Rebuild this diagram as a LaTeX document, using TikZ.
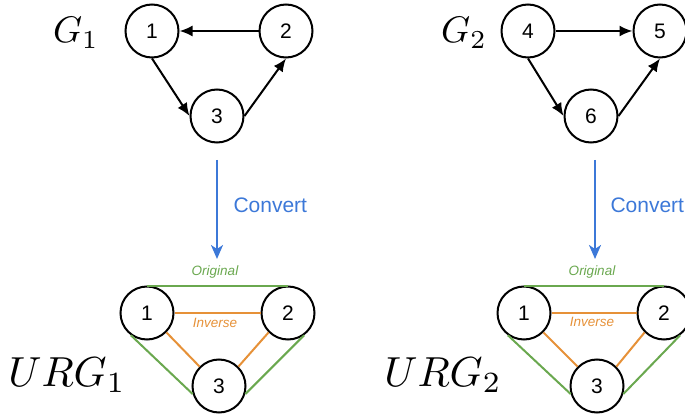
\documentclass[tikz,border=0pt]{standalone}
\usepackage{fontspec}
\setsansfont{Liberation Sans}
\definecolor{ConvBlue}{RGB}{60, 120, 216}
\definecolor{OrigGreen}{RGB}{106, 168, 79}
\definecolor{InvOrange}{RGB}{230, 145, 56}
\usetikzlibrary{arrows.meta}

\begin{document}
\begin{tikzpicture}[x=1pt, y=-1pt,
        vtx/.style={circle, draw, line width=2pt, minimum size=53pt, inner sep=0pt, font=\sffamily\fontsize{21}{21}\selectfont},
        dir/.style={-{Latex[length=13pt, width=11pt]}, line width=2pt},
        conv/.style={-{Stealth[length=14pt, width=12pt, inset=4pt]}, line width=2.2pt, ConvBlue},
        orig/.style={line width=2pt, OrigGreen},
        inv/.style={line width=2pt, InvOrange},
        small/.style={font=\sffamily\itshape\fontsize{13.5}{13.5}\selectfont}]
        \useasboundingbox (0,0) rectangle (685,414);

        % Graph G1
        \node[scale=3.7] (g1) at (76,33) {$G_1$};
        \node[vtx] (a1) at (152,31) {1};
        \node[vtx] (a2) at (286,31) {2};
        \node[vtx] (a3) at (217,116) {3};
        \draw[dir] (a2.west) -- (a1.east);
        \draw[dir] (a1.south) -- (a3.west);
        \draw[dir] (a3.east) -- (a2.south);

        % Graph G2
        \node[scale=3.7] (g2) at (464,33) {$G_2$};
        \node[vtx] (a4) at (528,31) {4};
        \node[vtx] (a5) at (660,31) {5};
        \node[vtx] (a6) at (591,116) {6};
        \draw[dir] (a4.east) -- (a5.west);
        \draw[dir] (a4.south) -- (a6.west);
        \draw[dir] (a6.east) -- (a5.south);

        % Convert
        \coordinate (c1s) at (217,160);
        \coordinate (c1e) at (217,259);
        \draw[conv] (c1s) -- (c1e);
        \node[anchor=west, text=ConvBlue, font=\sffamily\fontsize{21}{21}\selectfont] (t1) at (230,205) {Convert};
        \coordinate (c2s) at (595,160);
        \coordinate (c2e) at (595,259);
        \draw[conv] (c2s) -- (c2e);
        \node[anchor=west, text=ConvBlue, font=\sffamily\fontsize{21}{21}\selectfont] (t2) at (607,205) {Convert};

        % URG1
        \node[scale=4.2] (u1) at (67,375) {$URG_1$};
        \node[vtx] (b1) at (147,313) {1};
        \node[vtx] (b2) at (288,313) {2};
        \node[vtx] (b3) at (219,386) {3};
        \draw[orig] (b1.north) -- (b2.north);
        \draw[orig] (b1.234) -- (b3.197);
        \draw[orig] (b3.343) -- (b2.306);
        \draw[inv] (b1.east) -- (b2.west);
        \draw[inv] (b1.south east) -- (b3.north west);
        \draw[inv] (b3.north east) -- (b2.south west);
        \node[small, text=OrigGreen] (o1) at (215,272) {Original};
        \node[small, text=InvOrange] (i1) at (215,323) {Inverse};

        % URG2
        \node[scale=4.2] (u2) at (443,375) {$URG_2$};
        \node[vtx] (b4) at (524,313) {1};
        \node[vtx] (b5) at (664,313) {2};
        \node[vtx] (b6) at (597,386) {3};
        \draw[orig] (b4.north) -- (b5.north);
        \draw[orig] (b4.234) -- (b6.197);
        \draw[orig] (b6.343) -- (b5.306);
        \draw[inv] (b4.east) -- (b5.west);
        \draw[inv] (b4.south east) -- (b6.north west);
        \draw[inv] (b6.north east) -- (b5.south west);
        \node[small, text=OrigGreen] (o2) at (592,272) {Original};
        \node[small, text=InvOrange] (i2) at (592,322) {Inverse};
    \end{tikzpicture}
\end{document}
